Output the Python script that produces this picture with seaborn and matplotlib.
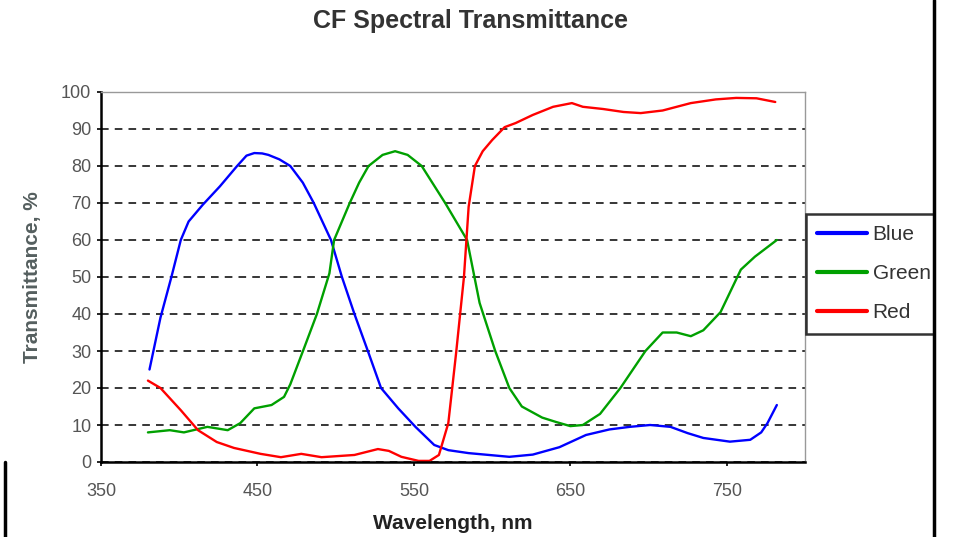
import numpy as np
import pandas as pd
import matplotlib
import matplotlib.pyplot as plt
import seaborn as sns
from matplotlib.lines import Line2D

matplotlib.use('Agg')

# values
blue_wl = [381, 388, 395, 401, 406, 415, 426, 437, 443, 448, 453, 457, 464, 471, 479, 486, 497,
           504, 512, 521, 529, 540, 551, 563, 572, 585, 598, 611, 626, 643, 660, 675, 688, 701,
           714, 725, 735, 752, 765, 772, 776, 782]
blue_t = [25, 39, 50, 60, 65, 69.5, 74.5, 80, 82.8, 83.5, 83.4, 83, 81.8, 80, 75.5, 70, 60,
          50, 40, 29.5, 20, 14.5, 9.5, 4.6, 3.2, 2.4, 1.9, 1.4, 2, 4, 7.3, 8.8, 9.5, 10,
          9.5, 7.8, 6.5, 5.5, 6, 8, 10.5, 15.4]

green_wl = [380, 394, 403, 418, 431, 439, 448, 459, 467, 471, 480, 488, 496, 499, 509, 515, 521,
            530, 538, 546, 555, 570, 584, 592, 602, 611, 619, 632, 641, 650, 658, 669, 682, 698,
            709, 718, 727, 735, 746, 759, 768, 782]
green_t = [8, 8.6, 8, 9.5, 8.6, 10.5, 14.5, 15.4, 17.6, 21, 31, 40, 51, 60, 70, 75.5, 80,
           83, 84, 83, 80, 70, 60, 43, 30, 20, 15, 12, 10.8, 9.7, 10, 13, 20, 30,
           35, 35, 34, 35.6, 40.5, 52, 55.5, 60]

red_wl = [380, 388, 401, 412, 424, 435, 452, 465, 478, 491, 512, 527, 534, 542, 553, 560,
          566, 572, 577, 582, 585, 589, 594, 600, 608, 615, 626, 639, 651, 658, 671, 684,
          695, 709, 727, 743, 756, 769, 781]
red_t = [22, 20, 14, 8.6, 5.4, 3.8, 2.2, 1.3, 2.2, 1.3, 1.9, 3.5, 3, 1.4, 0.3, 0.3,
         1.9, 10.5, 29.5, 50, 69, 80, 84, 87, 90.5, 91.6, 93.8, 96, 97, 96, 95.4, 94.6,
         94.3, 95, 97, 98, 98.4, 98.3, 97.3]

series_names = ['Blue', 'Green', 'Red']
series_colors = ['#0000FF', '#00A000', '#FF0000']
x_ticks = [350, 450, 550, 650, 750]
y_ticks = list(range(0, 101, 10))

frames = []
for name, wl, t in zip(series_names, [blue_wl, green_wl, red_wl], [blue_t, green_t, red_t]):
    frames.append(pd.DataFrame({'Wavelength': wl, 'Transmittance': t, 'Filter': name}))
df = pd.concat(frames, ignore_index=True)

sns.set_style('white')
plt.rcParams['font.family'] = ['Liberation Sans', 'DejaVu Sans']

fig = plt.figure(figsize=(9.55, 5.37), dpi=100)
ax = fig.add_axes([101 / 955, 1 - 462 / 537, (805 - 101) / 955, (462 - 92) / 537])

sns.lineplot(data=df, x='Wavelength', y='Transmittance', hue='Filter',
             palette=dict(zip(series_names, series_colors)), sort=False,
             linewidth=1.7, ax=ax, legend=False)

ax.set_xlim(350, 800)
ax.set_ylim(0, 100)
ax.set_xticks(x_ticks)
ax.set_yticks(y_ticks)
ax.tick_params(axis='both', direction='out', length=3, width=1.2, color='black',
               labelsize=13, labelcolor='#555555', bottom=True, left=True)
ax.tick_params(axis='x', pad=12)
ax.tick_params(axis='y', pad=4)

ax.yaxis.grid(True, color='black', linestyle=(0, (5, 4)), linewidth=1.1)
ax.set_axisbelow(True)

for side in ['left', 'bottom']:
    ax.spines[side].set_color('black')
    ax.spines[side].set_linewidth(1.8)
for side in ['top', 'right']:
    ax.spines[side].set_color('#999999')
    ax.spines[side].set_linewidth(1.0)

ax.set_xlabel('Wavelength, nm', fontsize=15, fontweight='bold', color='#222222', labelpad=10)
ax.set_ylabel('Transmittance, %', fontsize=15, fontweight='bold', color='#555f5f', labelpad=14)
fig.suptitle('CF Spectral Transmittance', x=470 / 955, y=1 - 9 / 537, fontsize=18,
             fontweight='bold', color='#333333', va='top')

handles = [Line2D([0], [0], color=c, linewidth=3) for c in series_colors]
leg = fig.legend(handles, series_names, loc='upper left',
                 bbox_to_anchor=(806 / 955, 1 - 214 / 537), fontsize=15,
                 frameon=True, fancybox=False, handlelength=2.4, handletextpad=0.25,
                 labelspacing=0.95, borderpad=0.55, borderaxespad=0)
leg.get_frame().set_edgecolor('black')
leg.get_frame().set_linewidth(1.8)
for txt in leg.get_texts():
    txt.set_color('#333333')

# white mask and black edge line at the right of the picture
fig.patches.append(plt.Rectangle((935 / 955, 0), 20 / 955, 1, transform=fig.transFigure,
                                 facecolor='white', edgecolor='none', zorder=10))
fig.add_artist(Line2D([934 / 955, 934 / 955], [0, 1], color='black', linewidth=2.5, zorder=11))
fig.add_artist(Line2D([5 / 955, 5 / 955], [0, 1 - 462 / 537], color='black', linewidth=2.5))

fig.savefig('out.png', dpi=100)
